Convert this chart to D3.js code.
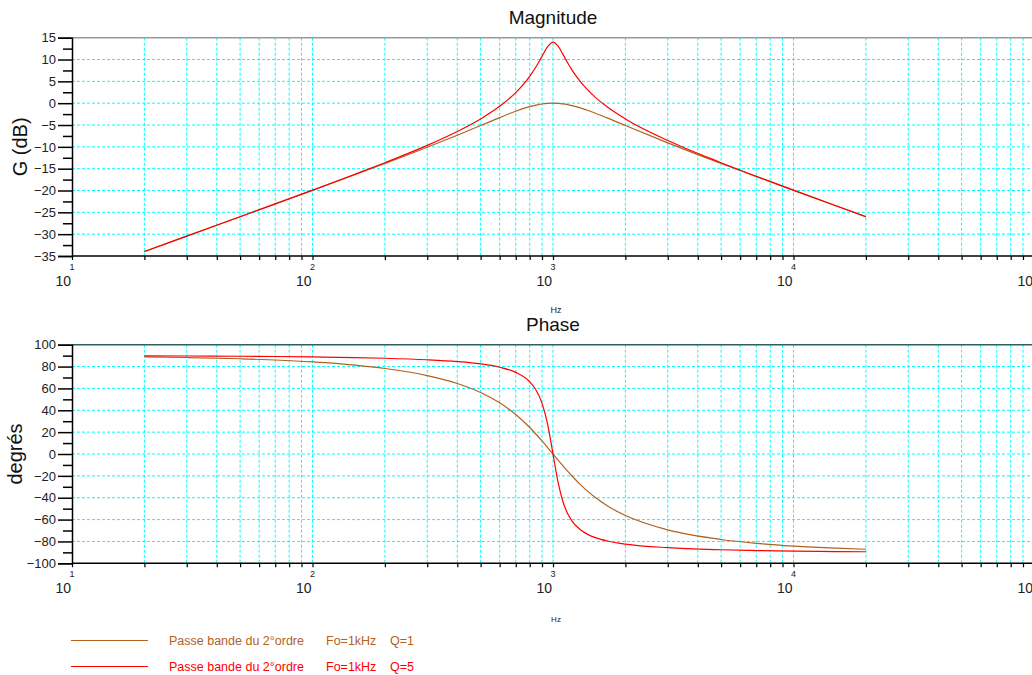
<!DOCTYPE html>
<html>
<head>
<meta charset="utf-8">
<script src="https://cdn.jsdelivr.net/npm/d3@7"></script>
<style>
  body { margin: 0; background: #fff; }
  svg { display: block; font-family: "Liberation Sans", Arial, sans-serif; }
</style>
</head>
<body>
<div id="chart"></div>
<script>
// ---------------------------------------------- DATA ----------------------------------------------
var freqs = [20, 30, 50, 70, 100, 150, 200, 300, 400, 500, 600, 700, 800, 850, 900, 950, 1000,
             1050, 1100, 1150, 1200, 1300, 1400, 1500, 1700, 2000, 3000, 5000, 7000, 10000, 15000, 20000];

var gainQ1 = [-34.0, -30.45, -26.0, -23.07, -19.96, -16.38, -13.81, -10.09, -7.33, -5.12, -3.30, -1.85, -0.80, -0.44, -0.19, -0.05, 0,
              -0.04, -0.16, -0.33, -0.55, -1.08, -1.67, -2.29, -3.49, -5.12, -9.09, -13.81, -16.81, -19.96, -23.5, -26.0];
var gainQ5 = [-33.98, -30.45, -26.0, -23.06, -19.91, -16.28, -13.63, -9.66, -6.48, -3.60, -0.71, 2.43, 6.15, 8.34, 10.73, 12.96, 13.98,
              13.05, 11.17, 9.26, 7.58, 4.93, 2.92, 1.34, -1.06, -3.60, -8.55, -13.63, -16.73, -19.91, -23.48, -26.0];

var phaseQ1 = [88.85, 88.28, 87.13, 85.98, 84.23, 81.28, 78.23, 71.76, 64.54, 56.31, 46.85, 36.08, 24.23, 18.08, 11.92, 5.86, 0,
               -5.57, -10.81, -15.67, -20.14, -27.97, -34.45, -39.81, -48.03, -56.31, -69.44, -78.23, -81.70, -84.23, -86.17, -87.13];
var phaseQ5 = [89.77, 89.66, 89.43, 89.19, 88.84, 88.24, 87.61, 86.23, 84.56, 82.41, 79.38, 74.65, 66.04, 58.50, 46.55, 27.16, 0,
               -26.01, -43.68, -54.50, -61.39, -69.35, -73.74, -76.51, -79.80, -82.41, -85.71, -87.61, -88.33, -88.84, -89.23, -89.43];

var gainTicks = [15, 10, 5, 0, -5, -10, -15, -20, -25, -30, -35];
var phaseTicks = [100, 80, 60, 40, 20, 0, -20, -40, -60, -80, -100];
var decades = [1, 2, 3, 4, 5];

var series = [
  { name: "Passe bande du 2°ordre", fo: "Fo=1kHz", q: "Q=1", color: "#b4601e", gain: gainQ1, phase: phaseQ1 },
  { name: "Passe bande du 2°ordre", fo: "Fo=1kHz", q: "Q=5", color: "#ff0000", gain: gainQ5, phase: phaseQ5 }
];

// ---------------------------------------------- SVG -----------------------------------------------
var width = 1032, height = 675;

var svg = d3.select("#chart").append("svg")
    .attr("width", width)
    .attr("height", height);

var x = d3.scaleLog().domain([10, 100000]).range([72, 1034]);

// every 1..9 x 10^n position, for grid and ticks
var xTicks = [];
for (var e = 1; e < 5; e++) {
  for (var m = 1; m < 10; m++) xTicks.push(m * Math.pow(10, e));
}
xTicks.push(100000);

function panel(opt) {
  var y = d3.scaleLinear().domain(opt.domain).range([opt.bottom, opt.top]);
  var g = svg.append("g");

  // grid
  g.selectAll(".vgrid").data(xTicks.filter(function(d) { return d > 10; }))
    .enter().append("line")
    .attr("x1", function(d) { return x(d); }).attr("x2", function(d) { return x(d); })
    .attr("y1", opt.top).attr("y2", opt.bottom)
    .attr("stroke", "#00ffff").attr("stroke-width", 1).attr("stroke-dasharray", "3,2");

  g.selectAll(".hgrid").data(opt.ticks.filter(function(d) { return d !== opt.domain[0] && d !== opt.domain[1]; }))
    .enter().append("line")
    .attr("x1", 72).attr("x2", width)
    .attr("y1", function(d) { return y(d); }).attr("y2", function(d) { return y(d); })
    .attr("stroke", "#00ffff").attr("stroke-width", 1).attr("stroke-dasharray", "3,2");

  // top border
  g.append("line")
    .attr("x1", 72).attr("x2", width)
    .attr("y1", opt.top).attr("y2", opt.top)
    .attr("stroke", opt.topColor).attr("stroke-width", 1.5);

  // curves
  series.forEach(function(s) {
    var line = d3.line()
      .x(function(d, i) { return x(freqs[i]); })
      .y(function(d) { return y(d); })
      .curve(d3.curveMonotoneX);
    g.append("path")
      .datum(s[opt.key])
      .attr("d", line)
      .attr("fill", "none")
      .attr("stroke", s.color)
      .attr("stroke-width", 1.2);
  });

  // y axis
  var yAxis = d3.axisLeft(y).tickValues(opt.ticks).tickSize(14).tickPadding(2).tickFormat(d3.format("d"));
  var ya = g.append("g").attr("transform", "translate(72,0)").call(yAxis);
  ya.select(".domain").attr("stroke", "#000").attr("stroke-width", 1.5);
  ya.selectAll(".tick line").attr("stroke", "#000").attr("stroke-width", 1.5);
  ya.selectAll(".tick text").attr("font-size", 13).attr("fill", "#222")
    .attr("font-family", "Liberation Sans, Arial, sans-serif");

  var minor = d3.axisLeft(y).tickValues(opt.minor).tickSize(9).tickFormat("");
  var ym = g.append("g").attr("transform", "translate(72,0)").call(minor);
  ym.select(".domain").remove();
  ym.selectAll(".tick line").attr("stroke", "#000").attr("stroke-width", 1.5);

  // x axis
  var xAxis = d3.axisBottom(x).tickValues(xTicks).tickSize(4).tickFormat("");
  var xa = g.append("g").attr("transform", "translate(0," + opt.bottom + ")").call(xAxis);
  xa.select(".domain").attr("stroke", "#000").attr("stroke-width", 1.5).attr("d", "M72,0H" + width);
  xa.selectAll(".tick line").attr("stroke", "#000").attr("stroke-width", 1.2);

  // decade labels 10^n (the last one is cut by the window edge)
  decades.forEach(function(p) {
    var xp = x(Math.pow(10, p));
    g.append("text").text("10")
      .attr("x", xp - 1).attr("y", opt.bottom + 30)
      .attr("text-anchor", "end").attr("font-size", 14).attr("fill", "#222");
    if (xp < width - 4) {
      g.append("text").text(p)
        .attr("x", xp).attr("y", opt.bottom + 14)
        .attr("text-anchor", "middle").attr("font-size", 9).attr("fill", "#222");
    }
  });

  g.append("text").text("Hz")
    .attr("x", 556).attr("y", opt.bottom + opt.hzOffset)
    .attr("text-anchor", "middle").attr("font-size", opt.hzSize).attr("fill", "#222");

  // title
  g.append("text").text(opt.title)
    .attr("x", 553).attr("y", opt.top - 14)
    .attr("text-anchor", "middle").attr("font-size", 19).attr("fill", "#111");

  // y label
  g.append("text").text(opt.ylabel)
    .attr("transform", "translate(" + opt.ylabelX + "," + ((opt.top + opt.bottom) / 2) + ") rotate(-90)")
    .attr("text-anchor", "middle").attr("font-size", 20).attr("fill", "#111");
}

panel({
  key: "gain", title: "Magnitude", ylabel: "G (dB)", ylabelX: 27,
  domain: [-35, 15], ticks: gainTicks, minor: d3.range(-32.5, 15, 5),
  top: 37.7, bottom: 256, topColor: "#999", hzOffset: 57, hzSize: 9
});

panel({
  key: "phase", title: "Phase", ylabel: "degrés", ylabelX: 22,
  domain: [-100, 100], ticks: phaseTicks, minor: d3.range(-90, 100, 20),
  top: 344.7, bottom: 563.3, topColor: "#2f5f5f", hzOffset: 59, hzSize: 8
});

// ---------------------------------------------- LEGEND --------------------------------------------
var legend = svg.append("g").selectAll("g").data(series).enter().append("g")
    .attr("transform", function(d, i) { return "translate(0," + (640.5 + i * 26) + ")"; });

legend.append("line")
    .attr("x1", 71).attr("x2", 148).attr("y1", 0).attr("y2", 0)
    .attr("stroke", function(d) { return d.color; }).attr("stroke-width", 1.2);

legend.append("text").text(function(d) { return d.name; })
    .attr("x", 169).attr("y", 4.5).attr("font-size", 12.5)
    .attr("fill", function(d) { return d.color; });
legend.append("text").text(function(d) { return d.fo; })
    .attr("x", 326).attr("y", 4.5).attr("font-size", 12.5)
    .attr("fill", function(d) { return d.color; });
legend.append("text").text(function(d) { return d.q; })
    .attr("x", 390).attr("y", 4.5).attr("font-size", 12.5)
    .attr("fill", function(d) { return d.color; });
</script>
</body>
</html>
